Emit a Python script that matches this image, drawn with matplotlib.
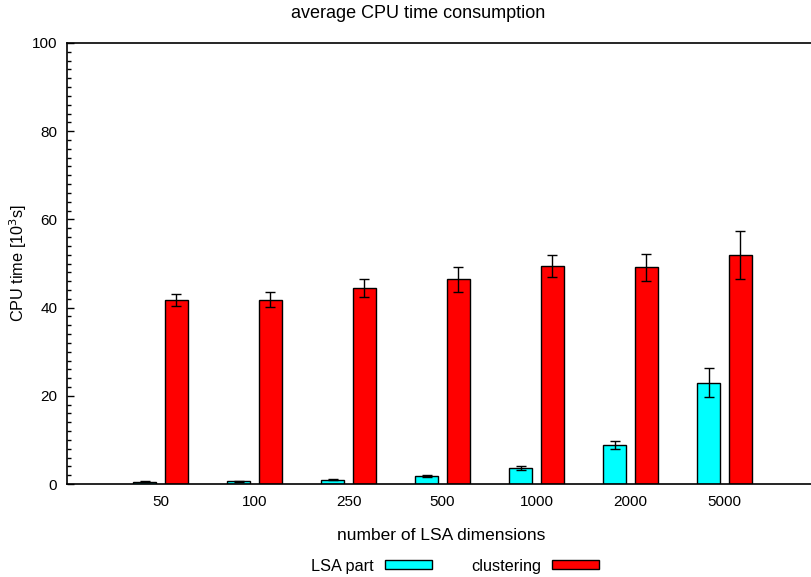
import matplotlib
matplotlib.use("Agg")
import matplotlib.pyplot as plt
import numpy as np
from matplotlib.patches import Patch
from matplotlib.ticker import MultipleLocator

plt.rcParams['font.family'] = ['Liberation Sans', 'DejaVu Sans']

# data
dims = ["50", "100", "250", "500", "1000", "2000", "5000"]
lsa_part = [0.5, 0.6, 1.0, 1.8, 3.6, 8.8, 23.0]
lsa_err = [0.15, 0.15, 0.2, 0.2, 0.4, 0.85, 3.3]
clustering = [41.65, 41.8, 44.4, 46.4, 49.4, 49.1, 51.9]
clustering_err = [1.4, 1.65, 2.0, 2.8, 2.45, 3.0, 5.4]

W, H = 811, 577
fig = plt.figure(figsize=(W / 100, H / 100), dpi=100)
ax = fig.add_axes([67 / W, 1 - 484 / H, (W - 67) / W, (484 - 43) / H])

x = np.arange(len(dims))
bw = 0.25
off = 0.168

ax.bar(x - off, lsa_part, bw, color="#00ffff", edgecolor="black", linewidth=1, zorder=2)
ax.bar(x + off, clustering, bw, color="#ff0000", edgecolor="black", linewidth=1, zorder=2)
ax.errorbar(x - off, lsa_part, yerr=lsa_err, fmt="none", ecolor="black",
            elinewidth=1, capsize=3.5, capthick=1, zorder=3)
ax.errorbar(x + off, clustering, yerr=clustering_err, fmt="none", ecolor="black",
            elinewidth=1, capsize=3.5, capthick=1, zorder=3)

ax.set_xlim(-0.995, 6.92)
ax.set_ylim(0, 100)
ax.set_xticks(x)
ax.set_xticklabels(dims)
ax.yaxis.set_major_locator(MultipleLocator(20))
ax.yaxis.set_minor_locator(MultipleLocator(2))
ax.tick_params(axis="y", which="major", direction="in", length=5, width=1, pad=7, labelsize=11)
ax.tick_params(axis="y", which="minor", direction="in", length=3, width=1)
ax.tick_params(axis="x", which="both", length=0, pad=8, labelsize=11)

ax.spines["right"].set_visible(False)
for s in ["left", "bottom", "top"]:
    ax.spines[s].set_linewidth(1.2)

fig.text(418 / W, 1 - 14 / H, "average CPU time consumption", ha="center", va="center", fontsize=13)
fig.text(441 / W, 1 - 535 / H, "number of LSA dimensions", ha="center", va="center", fontsize=12.5)
fig.text(18 / W, 1 - 263 / H, "CPU time [10$^3$s]", ha="center", va="center",
         rotation=90, fontsize=11.7)

handles = [Patch(facecolor="#00ffff", edgecolor="black", linewidth=1, label="LSA part"),
           Patch(facecolor="#ff0000", edgecolor="black", linewidth=1, label="clustering")]
fig.legend(handles=handles, ncol=2, markerfirst=False, frameon=False, loc="center",
           bbox_to_anchor=(455 / W, 1 - 566 / H), fontsize=11.7, handlelength=2.9,
           handleheight=0.5, handletextpad=0.7, columnspacing=2.4)

fig.savefig("out.png", dpi=100)
